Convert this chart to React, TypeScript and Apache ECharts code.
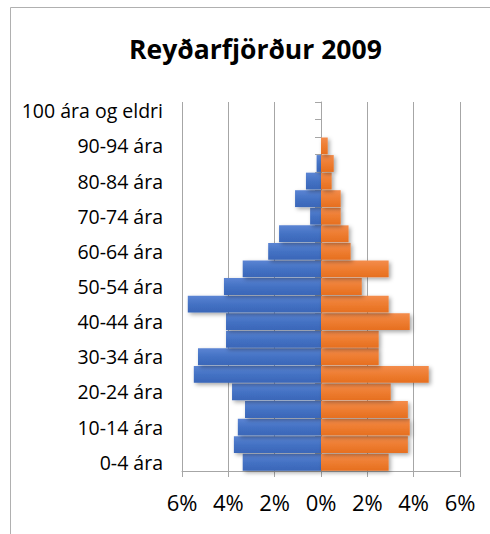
import React, { useEffect, useRef } from "react";
import * as echarts from "echarts";

const categories = [
  "0-4 ára", "5-9 ára", "10-14 ára", "15-19 ára", "20-24 ára", "25-29 ára",
  "30-34 ára", "35-39 ára", "40-44 ára", "45-49 ára", "50-54 ára", "55-59 ára",
  "60-64 ára", "65-69 ára", "70-74 ára", "75-79 ára", "80-84 ára", "85-89 ára",
  "90-94 ára", "95-99 ára", "100 ára og eldri",
];

// percentages, left side (blue) shown as negative
const leftSeries = [
  -3.38, -3.76, -3.59, -3.28, -3.84, -5.49, -5.31, -4.1, -4.1, -5.75, -4.19, -3.38,
  -2.28, -1.81, -0.47, -1.12, -0.65, -0.19, 0, 0, 0,
];
const rightSeries = [
  2.92, 3.75, 3.83, 3.75, 3.01, 4.65, 2.49, 2.49, 3.83, 2.92, 1.76, 2.92,
  1.28, 1.19, 0.85, 0.85, 0.46, 0.55, 0.29, 0, 0,
];

const xTicks = [-6, -4, -2, 0, 2, 4, 6];

const titleText = "Reyðarfjörður 2009";

const FONT = "'Open Sans', 'Noto Sans', sans-serif";

export default function App() {
  const ref = useRef<HTMLDivElement>(null);
  useEffect(() => {
    if (!ref.current) return;
    const chart = echarts.init(ref.current, undefined, { renderer: "svg" });
    const shadow = {
      shadowBlur: 4,
      shadowOffsetX: 2,
      shadowOffsetY: 2,
      shadowColor: "rgba(0,0,0,0.35)",
    };
    chart.setOption({
      animation: false,
      backgroundColor: "#ffffff",
      title: {
        text: titleText,
        left: 129,
        top: 30,
        padding: [5, 0, 5, 0],
        textStyle: { fontFamily: FONT, fontWeight: "bold", fontSize: 26.5, color: "#000" },
      },
      graphic: [
        {
          type: "rect",
          shape: { x: 10.5, y: 7.5, width: 520, height: 560 },
          style: { fill: "none", stroke: "#b0b0b0", lineWidth: 1 },
          z: -1,
        },
      ],
      grid: { left: 182, right: 30, top: 102, bottom: 63 },
      xAxis: {
        type: "value",
        min: xTicks[0],
        max: xTicks[xTicks.length - 1],
        interval: 2,
        axisLine: { show: true, lineStyle: { color: "#a6a6a6", width: 1 } },
        axisTick: { show: true, length: 6, lineStyle: { color: "#a6a6a6" } },
        splitLine: { show: true, lineStyle: { color: "#a6a6a6", width: 1 } },
        axisLabel: {
          formatter: (v: number) => Math.abs(v) + "%",
          fontFamily: FONT,
          fontSize: 22,
          color: "#000",
          margin: 20,
        },
      },
      yAxis: [
        {
          type: "category",
          data: categories,
          axisLine: { show: false, onZero: false },
          axisTick: { show: false },
          axisLabel: {
            interval: 1,
            fontFamily: FONT,
            fontSize: 19.5,
            color: "#000",
            margin: 19,
          },
        },
        {
          type: "category",
          data: categories,
          position: "left",
          axisLine: {
            show: true,
            onZero: true,
            onZeroAxisIndex: 0,
            lineStyle: { color: "#a6a6a6" },
          },
          axisTick: { show: true, interval: 0, length: 6, lineStyle: { color: "#a6a6a6" } },
          axisLabel: { show: false },
        },
      ],
      series: [
        {
          type: "bar",
          stack: "pyr",
          yAxisIndex: 0,
          data: leftSeries,
          barCategoryGap: "4%",
          itemStyle: {
            color: new echarts.graphic.LinearGradient(0, 0, 0, 1, [
              { offset: 0, color: "#5b84d3" },
              { offset: 0.5, color: "#4472c4" },
              { offset: 1, color: "#3a66b8" },
            ]),
            ...shadow,
          },
        },
        {
          type: "bar",
          stack: "pyr",
          yAxisIndex: 0,
          data: rightSeries,
          barCategoryGap: "4%",
          itemStyle: {
            color: new echarts.graphic.LinearGradient(0, 0, 0, 1, [
              { offset: 0, color: "#f38c4c" },
              { offset: 0.5, color: "#ee7d31" },
              { offset: 1, color: "#e66f1f" },
            ]),
            ...shadow,
          },
        },
      ],
    });
    return () => chart.dispose();
  }, []);
  return (
    <div
      ref={ref}
      style={{ position: "fixed", left: 0, top: 0, width: 490, height: 534 }}
    />
  );
}
